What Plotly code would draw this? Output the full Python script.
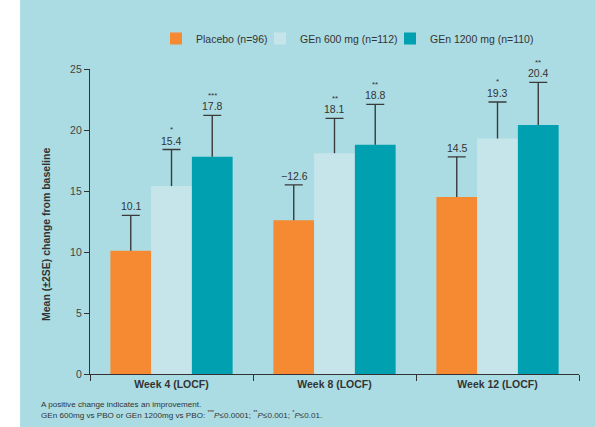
import plotly.graph_objects as go

# Study visits and treatment arms
weeks = ["Week 4 (LOCF)", "Week 8 (LOCF)", "Week 12 (LOCF)"]
arms = ["Placebo (n=96)", "GEn 600 mg (n=112)", "GEn 1200 mg (n=110)"]

# Mean change from baseline per arm
placebo = [10.1, 12.6, 14.5]
gen600 = [15.4, 18.1, 19.3]
gen1200 = [17.8, 18.8, 20.4]

# Upper error (2SE) per arm
placebo_err = [2.9, 2.9, 3.3]
gen600_err = [3.0, 2.85, 3.0]
gen1200_err = [3.4, 3.3, 3.5]

# Value labels and significance markers printed over each bar
placebo_labels = ["10.1", "\u221212.6", "14.5"]
gen600_labels = ["15.4", "18.1", "19.3"]
gen1200_labels = ["17.8", "18.8", "20.4"]
placebo_stars = ["", "", ""]
gen600_stars = ["*", "**", "*"]
gen1200_stars = ["***", "**", "**"]

colors = ["#F58A33", "#C6E5EB", "#00A0B1"]
BG = "#ABDCE3"
INK = "#333333"
FONT = "Liberation Sans, Arial, sans-serif"

series = [
    (arms[0], placebo, placebo_err, placebo_labels, placebo_stars, colors[0]),
    (arms[1], gen600, gen600_err, gen600_labels, gen600_stars, colors[1]),
    (arms[2], gen1200, gen1200_err, gen1200_labels, gen1200_stars, colors[2]),
]
legend_ids = ["legend", "legend2", "legend3"]
legend_x = [0.135, 0.3476, 0.6135]

fig = go.Figure()
for k, (name, vals, err, _, _, col) in enumerate(series):
    # bar with the upward whisker (no caps here)
    fig.add_trace(go.Bar(
        name=name, x=weeks, y=vals, legend=legend_ids[k],
        marker=dict(color=col, line=dict(width=0)),
        error_y=dict(type="data", symmetric=False, array=err,
                     arrayminus=[0] * len(err), color="#3A3A3A",
                     thickness=1.4, width=0),
    ))

for k, (name, vals, err, _, _, col) in enumerate(series):
    # cap at the top of each whisker, grouped like the bars
    tops = [v + e for v, e in zip(vals, err)]
    fig.add_trace(go.Scatter(
        x=weeks, y=tops, mode="markers", showlegend=False, hoverinfo="skip",
        marker=dict(size=1, opacity=0),
        error_y=dict(type="data", array=[0] * len(tops), color="#3A3A3A",
                     thickness=1.4, width=9),
    ))

# Labels above the error-bar caps, shifted to each bar in the group
BAR_PX = 40.5
annotations = []
for k, (name, vals, err, labels, stars, col) in enumerate(series):
    dx = (k - 1) * BAR_PX
    for i, w in enumerate(weeks):
        top = vals[i] + err[i]
        annotations.append(dict(
            x=w, y=top, xref="x", yref="y", text=labels[i], showarrow=False,
            xshift=dx, yshift=9, yanchor="middle",
            font=dict(family=FONT, size=10.5, color=INK)))
        if stars[i]:
            annotations.append(dict(
                x=w, y=top, xref="x", yref="y", text=stars[i], showarrow=False,
                xshift=dx, yshift=20, yanchor="middle",
                font=dict(family=FONT, size=8, color=INK)))

# Y-axis title
annotations.append(dict(
    x=-0.09, y=0.459, xref="paper", yref="paper", textangle=-90,
    showarrow=False, xanchor="center", yanchor="middle",
    text="<b>Mean (\u00b12SE) change from baseline</b>",
    font=dict(family=FONT, size=10.5, color=INK)))

# Footnote
annotations.append(dict(
    x=-0.104, y=-0.118, xref="paper", yref="paper", xanchor="left",
    yanchor="middle", align="left", showarrow=False,
    text=("A positive change indicates an improvement.<br>"
          "GEn 600mg vs PBO or GEn 1200mg vs PBO: "
          "<sup>***</sup><i>P</i>\u22640.0001; <sup>**</sup><i>P</i>\u22640.001; "
          "<sup>*</sup><i>P</i>\u22640.01."),
    font=dict(family=FONT, size=8.1, color=INK)))

legend_style = dict(orientation="h", xanchor="left", y=1.1, yanchor="middle",
                    bgcolor="rgba(0,0,0,0)",
                    font=dict(family=FONT, size=10.5, color=INK))

fig.update_layout(
    width=595, height=427,
    margin=dict(l=90, r=16, t=69, b=53),
    paper_bgcolor=BG, plot_bgcolor=BG,
    barmode="group", bargap=0.25, bargroupgap=0,
    scattermode="group", scattergap=0.25,
    font=dict(family=FONT, color=INK),
    showlegend=True,
    legend=dict(x=legend_x[0], **legend_style),
    legend2=dict(x=legend_x[1], **legend_style),
    legend3=dict(x=legend_x[2], **legend_style),
    annotations=annotations,
    shapes=[dict(type="rect", xref="paper", yref="paper",
                 x0=-0.2, x1=-0.143, y0=-0.3, y1=1.3,
                 fillcolor="white", line=dict(width=0), layer="above")],
    xaxis=dict(
        type="category", showline=True, linecolor=INK, linewidth=1.2,
        ticks="outside", tickson="boundaries", ticklen=6, tickcolor=INK,
        tickwidth=1.2, showgrid=False, zeroline=False,
        tickfont=dict(family=FONT, size=10.5, color=INK, weight="bold"),
    ),
    yaxis=dict(
        range=[0, 25], tickvals=[0, 5, 10, 15, 20, 25], showline=True,
        linecolor=INK, linewidth=1.2, ticks="outside", ticklen=5,
        tickcolor=INK, tickwidth=1.2, showgrid=False, zeroline=False,
        tickfont=dict(family=FONT, size=10.5, color="#444444"),
    ),
)

fig.write_html("out.html")
